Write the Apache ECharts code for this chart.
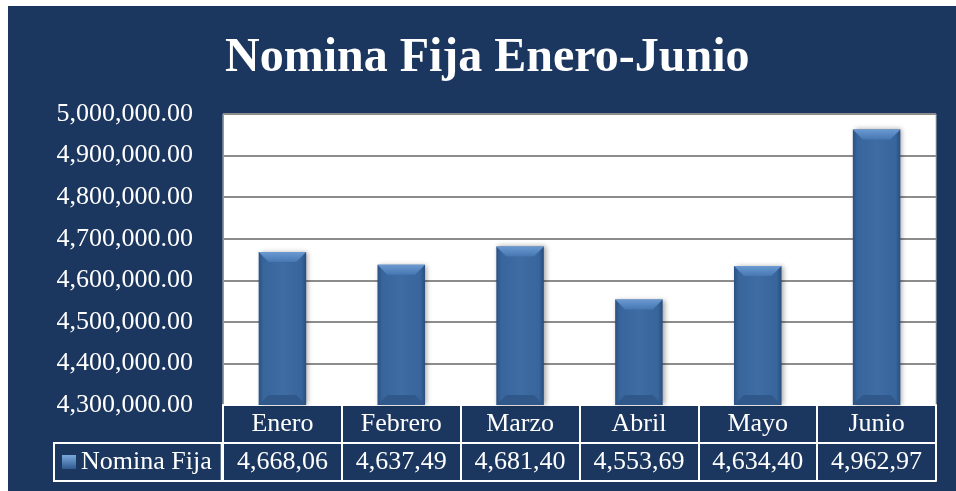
<!DOCTYPE html>
<html>
<head>
<meta charset="utf-8">
<script src="https://cdn.jsdelivr.net/npm/echarts@6/dist/echarts.min.js"></script>
<style>
  body { margin: 0; background: #ffffff; }
  #frame { position: absolute; left: 8px; top: 6px; width: 948px; height: 485px; background: #1b375f; }
  #main { position: absolute; left: 0; top: 0; width: 956px; height: 491px; }
</style>
</head>
<body>
<div id="frame"></div>
<div id="main"></div>
<script>
  // datos
  var months = ["Enero", "Febrero", "Marzo", "Abril", "Mayo", "Junio"];
  var nominaFija = [4668060, 4637490, 4681400, 4553690, 4634400, 4962970];
  var yMin = 4300000;
  var yMax = 5000000;
  var yStep = 100000;

  function fmt(v) {
    return v.toFixed(2).replace(/\B(?=(\d{3})+(?!\d))/g, ",");
  }
  // la tabla corta los valores como en el original
  var tableLabels = nominaFija.map(function (v) { return fmt(v).slice(0, 8); });

  var serif = "Liberation Serif";
  var chart = echarts.init(document.getElementById("main"));

  function renderBar(params, api) {
    var idx = api.value(0);
    var val = api.value(1);
    var top = api.coord([idx, val]);
    var base = api.coord([idx, yMin]);
    var w = api.size([1, 0])[0] * 0.4;
    var x0 = top[0] - w / 2, x1 = top[0] + w / 2;
    var y0 = top[1], y1 = base[1];
    var b = 10;
    return {
      type: "group",
      children: [
        {
          type: "rect",
          shape: { x: x0, y: y0, width: w, height: y1 - y0 },
          style: {
            fill: new echarts.graphic.LinearGradient(0, 0, 1, 0, [
              { offset: 0, color: "#2b5183" },
              { offset: 0.1, color: "#38659b" },
              { offset: 0.5, color: "#3e6ca3" },
              { offset: 0.9, color: "#38659b" },
              { offset: 1, color: "#294e7e" },
            ]),
            shadowBlur: 5,
            shadowOffsetX: 2,
            shadowColor: "rgba(0,0,0,0.35)",
          },
        },
        {
          type: "polygon",
          shape: { points: [[x0, y0], [x1, y0], [x1 - b, y0 + b], [x0 + b, y0 + b]] },
          style: {
            fill: new echarts.graphic.LinearGradient(0, 0, 0, 1, [
              { offset: 0, color: "#6b9ad2" },
              { offset: 1, color: "#4677b1" },
            ]),
          },
        },
        {
          type: "polygon",
          shape: { points: [[x0, y1], [x0 + b, y1 - b], [x1 - b, y1 - b], [x1, y1]] },
          style: { fill: "#30588a" },
        },
      ],
    };
  }

  var option = {
    backgroundColor: "transparent",
    title: {
      text: "Nomina Fija Enero-Junio",
      left: 220,
      top: 30,
      textStyle: { color: "#ffffff", fontFamily: serif, fontSize: 48, fontWeight: "bold" },
    },
    legend: {
      data: [{
        name: "Nomina Fija",
        icon: "rect",
        itemStyle: {
          color: new echarts.graphic.LinearGradient(0, 0, 0, 1, [
            { offset: 0, color: "#7aa8dd" },
            { offset: 1, color: "#2f5a8f" },
          ]),
        },
      }],
      left: 54,
      top: 443,
      itemWidth: 14,
      itemHeight: 14,
      itemGap: 5,
      padding: [6, 10, 6, 8],
      borderColor: "#ffffff",
      borderWidth: 2,
      selectedMode: false,
      textStyle: { color: "#ffffff", fontFamily: serif, fontSize: 26 },
    },
    grid: {
      left: 223,
      right: 20,
      top: 114,
      bottom: 86,
      show: true,
      backgroundColor: "#ffffff",
      borderColor: "#b8b8b8",
      borderWidth: 1,
    },
    xAxis: [
      {
        type: "category",
        data: months,
        position: "bottom",
        axisLine: { lineStyle: { color: "#ffffff", width: 2 } },
        axisTick: { show: true, length: 38, interval: 0, lineStyle: { color: "#ffffff", width: 2 } },
        axisLabel: { color: "#ffffff", fontFamily: serif, fontSize: 26, margin: 6, interval: 0 },
      },
      {
        type: "category",
        data: tableLabels,
        position: "bottom",
        offset: 38,
        axisLine: { lineStyle: { color: "#ffffff", width: 2 } },
        axisTick: { show: true, length: 38, interval: 0, lineStyle: { color: "#ffffff", width: 2 } },
        axisLabel: { color: "#ffffff", fontFamily: serif, fontSize: 26, margin: 6, interval: 0 },
      },
      {
        type: "category",
        data: months,
        position: "bottom",
        offset: 76,
        axisLine: { lineStyle: { color: "#ffffff", width: 2 } },
        axisTick: { show: false },
        axisLabel: { show: false },
      },
    ],
    yAxis: {
      type: "value",
      min: yMin,
      max: yMax,
      interval: yStep,
      axisLine: { show: true, lineStyle: { color: "#9a9a9a", width: 1 } },
      axisTick: { show: false },
      splitLine: { lineStyle: { color: "#8c8c8c", width: 2 } },
      axisLabel: {
        color: "#ffffff",
        fontFamily: serif,
        fontSize: 26,
        margin: 30,
        formatter: function (v) { return fmt(v); },
      },
    },
    series: [
      {
        name: "Nomina Fija",
        type: "custom",
        xAxisIndex: 0,
        renderItem: renderBar,
        itemStyle: { color: "#3f6ea6" },
        data: nominaFija.map(function (v, i) { return [i, v]; }),
        z: 3,
      },
    ],
  };
  chart.setOption(option);
</script>
</body>
</html>
